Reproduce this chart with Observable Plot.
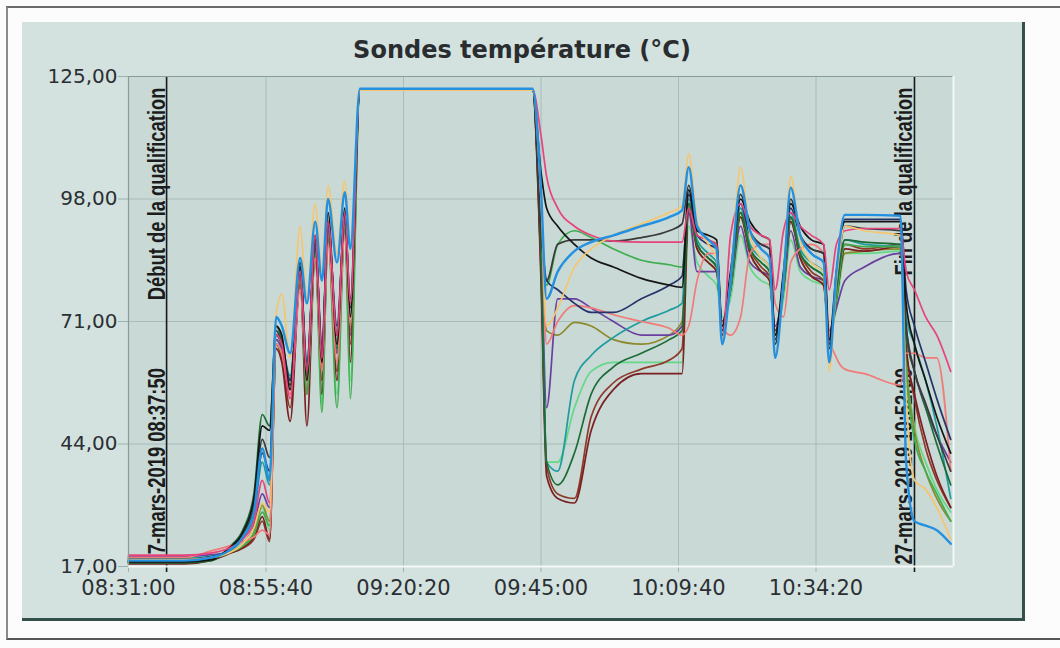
<!DOCTYPE html>
<html><head><meta charset="utf-8">
<script src="https://cdn.jsdelivr.net/npm/d3@7"></script>
<script src="https://cdn.jsdelivr.net/npm/@observablehq/plot@0.6"></script>
<style>
body{margin:0;background:#fff;}
#page{position:relative;width:1060px;height:648px;overflow:hidden;background:#fcfcfc;}
#sheet{position:absolute;left:6px;top:6px;width:1060px;height:630px;border-top:2px solid #6a6a6a;border-left:2px solid #8a8a8a;border-bottom:2px solid #555;}
#panel{position:absolute;left:22px;top:22px;width:1000px;height:596px;background:#d3e2df;border-right:3px solid #34504b;border-bottom:3px solid #34504b;}
#title{position:absolute;left:0;width:1000px;top:14px;text-align:center;font:bold 24px "DejaVu Sans",sans-serif;color:#2a2d30;}
#chart{position:absolute;left:0;top:0;}
</style></head>
<body><div id="page"><div id="sheet"></div><div id="panel"><div id="chart"></div><div id="title">Sondes température (°C)</div></div></div>
<script>
// Time grid: minutes after 08:31:00 on 27 March 2019
const minutes = [0,10,15,18,20.5,22.5,24,25.3,26.5,27.5,29,30.8,32,33.5,34.7,35.8,37.4,38.8,39.8,41.5,72.5,74,75,77,80,83,87,92,97,99.3,100.5,102,104,105.5,106.5,108,109.8,111.5,113.5,115,116,117.5,118.8,120.5,122.5,124.7,125.7,127,128.5,132,138.5,139.5,141,143,145,147.5];

const ltgreen = [18.4,18.4,19, 20.2,21.8,24.5,30,25, 65,63,56,79,56,85,53,89,55,91,58, 122,122, 88,40,40,52,60,62,62,62,62, 92,84,81,79,72,76,90,83,80,79,69,76,89,82,80,79,68,74,86,86,86.5,62,48,40,34,29];
const olive   = [18.7,18.7,19.1, 20,21.5,24.5,30.5,27, 67,65,57,81,59,87,61,91,64,93,69, 122,122, 85,69,68,70.8,70,67,66,68,71, 96,87,84,82,70,78,94,86,82,80,68,78,93,85,81,79,67,76,86,86.5,87,62,47,38,32,27];
const purple  = [19.2,19.2,19.6, 20.2,22,26,33,30, 67,65,58,81,60,87,62,91,64,93,68, 122,122, 88,52,76,76,74,71,68,68,70, 95,82,82,82,71,78,92,84,82,81,70,78,91,83,81,80,69,74,80,83,86,70,60,52,46,40];
const brown   = [18.1,18.1,18.9, 19.9,21,23,27,22.5, 66,63,52,80,55,86,58,90,60,92,66, 122,122, 82,39,33,32,50,57.5,60.5,62.5,65, 97,88,85,83,70,79,95,87,83,81,68,79,94,86,82,80,67,76,88,87,88,66,54,43,36,30];
const dkred   = [17.6,17.6,18.4, 19.8,21.2,23.5,28,23, 65,62,49,80,48,86,55,90,58,92,62, 122,122, 80,37,32,31,47,56,59.5,59.5,59.5, 96,87,84,82,71,78,94,86,82,80,69,78,93,85,81,79,68,76,87,86.5,87.5,65,55,45,37,30];
const teal    = [18.8,18.8,19.3, 20.4,23,28,40,35, 68,66,59,82,62,88,65,92,68,94,72, 122,122, 90,40,38,58,63.5,67.5,71,73.5,75, 98,89,86,84,68,80,96,88,85,83,66,80,95,87,84,82,65,78,89,88,87.5,72,66,58,48,32];
const green   = [18,18,18.7, 20,21.5,24,29,26, 66,64,56,80,55,86,51,90,52,92,54, 122,122, 95,79,88,91,89.5,87,84.5,83.5,83, 97,88,85,83,70,78,95,87,84,82,67,78,94,86,83,81,66,76,88,87.5,87.5,60,45,38,33,27];
const dkgreen = [17.8,17.8,18.3, 21.2,25,33,50.5,48, 70,67,58,83,60,89,63,93,65,95,70, 122,122, 85,40,35,42,55,61,64,67,69, 97,88,85,83,70,79,95,87,84,82,68,79,94,86,83,81,67,78,89,88.5,88,68,60,52,44,35];
const salmon  = [19,19,20.5, 21.5,22.5,23.5,25,24, 66,64,55,78,58,85,60,88,62,90,70, 122,122, 95,66,71,74.5,74,72.5,71,69.5,68, 70,80,86,86,70,68,72,86,88,88,75,72,84,87,88,86,68,63,60.5,59.5,57,64,64,63,63,38];
const navy    = [18.6,18.6,19.2, 20.6,23.5,29.5,42,38, 68,66,58,82,62,88,66,92,70,94,76, 122,122, 92,80,78,75,73,73,76,79,81, 99,90,88,87,69,81,97,90,88,87,67,81,96,90,87,86,66,80,93.5,93.5,93.5,78,70,62,54,45];
const black2  = [18.2,18.2,18.8, 20.8,24,30.5,45,41, 69,66,57,83,60,89,64,93,68,95,74, 122,122, 90,80,88,89,89,88.7,89.5,91,92.5, 101,92,89,88,68,80,99,91,88,87,66,80,98,90,87,86,65,80,92,91.5,91,70,60,53,46,38];
const black1  = [18,18,18.5, 21,24.5,32,48,47, 70,68,56,84,58,90,62,95,66,96,72, 122,122, 104,96,92,88,85,83,80.5,79,78.5, 100,91,90,89,70,82,98,93,90,89,68,82,97,92,89,88,67,82,93,93,93,75,66,58,50,42];
const magenta = [19.5,19.5,20, 21,23,27,36,31, 68,66,54,82,60,90,63,93,68,95,75, 122,122, 112,103,96,92,90,88.7,88.5,88.5,88.5, 96,90,89,88,66,90,97,92,90,89,78,91,95,92,90,88,78,88,91,91.5,91.5,82,78,72,68,60];
const yellow  = [18.5,18.5,19, 20,22,25.5,31,29, 73,77,63,92,76,97,82,101,86,102,88, 122,122, 98,70,74,83,87,90,92.5,95,96.5, 108,93,88,85,67,80,105,90,85,83,64,80,103,89,84,82,60,80,92,91,90,55,36,34,30,23];
const blue    = [18.3,18.3,19, 20.5,23.5,29,43,36, 72,70,64,85,75,93,80,98,84,99.5,87, 122.3,122.3, 100,76,82,86.5,88.5,90,92,94,95.5, 105,92,89,87,66,80,101,91,87,85,63,80,100.5,90,86,84,62,82,94.5,94.5,94.3,40,27,26,25,22];

const probeNames  = ["ltgreen","olive","purple","brown","dkred","teal","green","dkgreen","salmon","navy","black2","black1","magenta","yellow","blue"];
const probeValues = [ltgreen,olive,purple,brown,dkred,teal,green,dkgreen,salmon,navy,black2,black1,magenta,yellow,blue];
const probeColors = ["#63d887","#8c8a2c","#6b3fa0","#8e3b2a","#7b1f22","#1e9c9e","#3fae4e","#1d6b35","#f27a78","#25336b","#3a3a3a","#151515","#e8437d","#f6c66e","#2490e0"];

const xTickLabels = ["08:31:00","08:55:40","09:20:20","09:45:00","10:09:40","10:34:20"];
const yTicks = [17,44,71,98,125];
const markerTimes = ["08:37:50","10:52:00"];
const markerTop = ["Début de la qualification","Fin de la qualification"];
const markerBottom = ["27-mars-2019 08:37:50","27-mars-2019 10:52:00"];

const parseClock = s => d3.utcParse("%Y-%m-%d %H:%M:%S")("2019-03-27 " + s);
const t0 = parseClock("08:31:00");
const toDate = m => new Date(+t0 + m * 60000);
const xTicks = xTickLabels.map(parseClock);
const markers = markerTimes.map((s, i) => ({t: parseClock(s), top: markerTop[i], bottom: markerBottom[i]}));
const probes = probeNames.map((name, k) => ({
  name, color: probeColors[k],
  rows: probeValues[k].map((v, i) => ({t: toDate(minutes[i]), v}))
}));
const xDomain = [t0, toDate(148)];

const narrow = {fontFamily: "'Liberation Sans',sans-serif", fontWeight: "bold", fontSize: 23, fill: "#1c1c1c"};

const chart = Plot.plot({
  width: 1000, height: 584,
  marginLeft: 106, marginRight: 69, marginTop: 54, marginBottom: 40,
  style: {background: "transparent", fontFamily: "'DejaVu Sans',sans-serif", fontSize: "20px", color: "#2b2f33"},
  x: {type: "utc", domain: xDomain},
  y: {domain: [17, 125]},
  marks: [
    Plot.frame({fill: "#c8d9d6", stroke: null}),
    Plot.gridX(xTicks, {stroke: "#9db1ae", strokeOpacity: 0.7}),
    Plot.gridY(yTicks, {stroke: "#9db1ae", strokeOpacity: 0.7}),
    Plot.axisX(xTicks, {tickFormat: d3.utcFormat("%H:%M:%S"), tickSize: 6, tickPadding: 8, stroke: "#9db1ae", fontSize: 21, label: null}),
    Plot.axisY(yTicks, {tickFormat: d => d.toFixed(2).replace(".", ","), tickSize: 10, tickPadding: 1, stroke: "#9db1ae", label: null}),
    Plot.ruleX(markers, {x: "t", stroke: "#1a1a1a", strokeWidth: 1.6, insetBottom: -6}),
    Plot.text(markers, {x: "t", y: 125, text: "top", rotate: -90, textAnchor: "end", lineAnchor: "bottom", dx: -2, dy: 11, ...narrow}),
    Plot.text(markers, {x: "t", y: 17, text: "bottom", rotate: -90, textAnchor: "start", lineAnchor: "bottom", dx: -2, dy: -2, ...narrow}),
    ...probes.map(p => Plot.line(p.rows, {x: "t", y: "v", curve: "monotone-x", stroke: p.color, strokeWidth: p.name === "blue" ? 2.4 : 1.7})),
    Plot.ruleY([125], {stroke: "#8a9b98", strokeWidth: 1.2}),
    Plot.ruleX([xDomain[0]], {stroke: "#8a9b98", strokeWidth: 1.2}),
    Plot.ruleY([17], {stroke: "#f4f8f7", strokeWidth: 2}),
    Plot.ruleX([xDomain[1]], {stroke: "#f4f8f7", strokeWidth: 2})
  ]
});
document.getElementById("chart").appendChild(chart);

// condense the marker labels (narrow bold face as in the original)
const markerStrings = new Set([...markerTop, ...markerBottom]);
chart.querySelectorAll("text").forEach(el => {
  if (markerStrings.has(el.textContent)) {
    const L = el.getComputedTextLength();
    el.setAttribute("textLength", (L * 0.8).toFixed(1));
    el.setAttribute("lengthAdjust", "spacingAndGlyphs");
  }
});
</script></body></html>
